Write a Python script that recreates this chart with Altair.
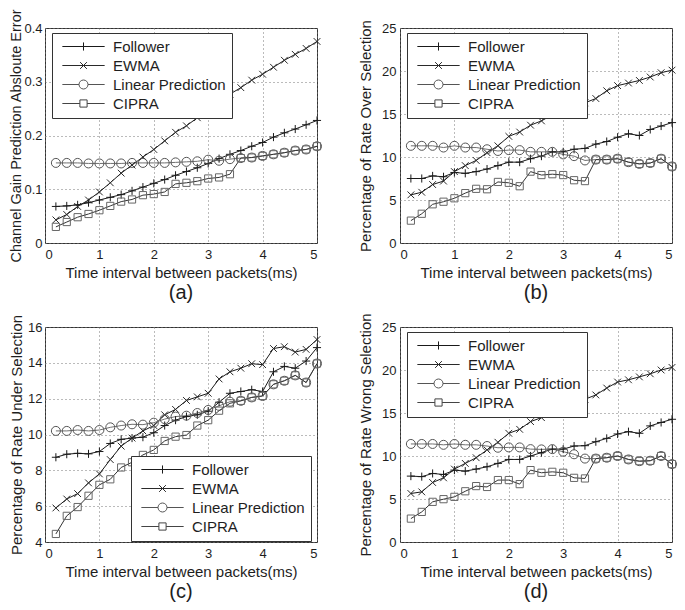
import altair as alt
import pandas as pd

# ---------------- data ----------------
x_ms = [0.2, 0.4, 0.6, 0.8, 1.0, 1.2, 1.4, 1.6, 1.8, 2.0, 2.2, 2.4, 2.6,
        2.8, 3.0, 3.2, 3.4, 3.6, 3.8, 4.0, 4.2, 4.4, 4.6, 4.8, 5.0]
series_names = ["Follower", "EWMA", "Linear Prediction", "CIPRA"]

# (a) Channel gain prediction absolute error
a_follower = [0.068, 0.069, 0.071, 0.075, 0.080, 0.085, 0.090, 0.097, 0.104, 0.111, 0.118, 0.126, 0.133,
              0.140, 0.148, 0.157, 0.165, 0.172, 0.180, 0.187, 0.197, 0.205, 0.212, 0.220, 0.228]
a_ewma = [0.043, 0.053, 0.068, 0.080, 0.095, 0.112, 0.130, 0.145, 0.160, 0.174, 0.190, 0.206, 0.218,
          0.233, 0.247, 0.262, 0.277, 0.289, 0.303, 0.314, 0.327, 0.340, 0.351, 0.362, 0.375]
a_lp = [0.149, 0.149, 0.149, 0.148, 0.148, 0.148, 0.148, 0.149, 0.149, 0.149, 0.149, 0.150, 0.151,
        0.152, 0.155, 0.153, 0.156, 0.158, 0.159, 0.162, 0.165, 0.168, 0.172, 0.174, 0.180]
a_cipra = [0.030, 0.039, 0.048, 0.054, 0.061, 0.069, 0.077, 0.081, 0.089, 0.091, 0.095, 0.110, 0.112,
           0.115, 0.120, 0.122, 0.128, 0.158, 0.159, 0.162, 0.165, 0.168, 0.172, 0.174, 0.180]

# (b) Percentage of rate over selection
b_follower = [7.5, 7.5, 7.8, 7.7, 8.2, 8.1, 8.3, 8.6, 9.0, 9.4, 9.4, 9.8, 10.1,
              10.6, 10.6, 10.9, 11.0, 11.5, 11.8, 12.3, 12.7, 12.5, 13.2, 13.6, 14.0]
b_ewma = [5.6, 5.9, 6.8, 7.2, 8.3, 9.0, 9.6, 10.5, 11.3, 12.4, 12.9, 13.7, 14.2,
          14.9, 15.3, 15.9, 16.3, 16.8, 17.7, 18.3, 18.6, 18.9, 19.3, 19.8, 20.1]
b_lp = [11.3, 11.3, 11.3, 11.1, 11.3, 11.1, 11.1, 10.9, 10.7, 10.8, 10.8, 10.6, 10.6,
        10.6, 10.3, 10.1, 9.6, 9.7, 9.7, 9.8, 9.4, 9.2, 9.3, 9.8, 8.9]
b_cipra = [2.6, 3.4, 4.5, 4.8, 5.2, 5.8, 6.3, 6.25, 7.1, 7.0, 6.6, 8.3, 7.9,
           8.0, 7.9, 7.3, 7.2, 9.7, 9.7, 9.8, 9.4, 9.2, 9.3, 9.8, 8.9]

# (c) Percentage of rate under selection
c_follower = [8.73, 8.9, 8.95, 8.92, 9.05, 9.5, 9.73, 9.8, 9.85, 10.1, 10.5, 10.8, 11.0,
              11.1, 11.3, 11.8, 12.3, 12.4, 12.5, 12.4, 13.5, 13.8, 13.7, 14.1, 14.85]
c_ewma = [5.9, 6.4, 6.7, 7.3, 7.8, 8.6, 9.35, 9.8, 10.2, 10.5, 11.1, 11.4, 11.9,
          12.1, 12.3, 13.1, 13.5, 13.7, 13.95, 13.9, 14.8, 14.9, 14.6, 14.75, 15.3]
c_lp = [10.2, 10.2, 10.25, 10.2, 10.25, 10.4, 10.5, 10.57, 10.55, 10.66, 10.86, 11.0, 11.05,
        11.2, 11.37, 11.6, 11.83, 11.88, 12.07, 12.15, 12.8, 13.0, 13.3, 12.9, 13.96]
c_cipra = [4.45, 5.46, 5.95, 6.58, 7.19, 7.5, 8.16, 8.45, 8.86, 9.14, 9.64, 9.88, 9.97,
           10.5, 10.8, 11.33, 11.74, 11.88, 12.07, 12.15, 12.8, 13.0, 13.3, 12.9, 13.96]

# (d) Percentage of rate wrong selection
d_follower = [7.66, 7.6, 7.97, 7.85, 8.36, 8.24, 8.48, 8.75, 9.14, 9.6, 9.6, 10.0, 10.4,
              10.8, 10.8, 11.16, 11.2, 11.66, 12.05, 12.56, 12.83, 12.64, 13.5, 13.9, 14.27]
d_ewma = [5.64, 5.83, 6.92, 7.46, 8.48, 9.14, 9.8, 10.7, 11.6, 12.64, 13.1, 14.0, 14.46,
          15.2, 15.6, 16.1, 16.6, 17.1, 17.9, 18.6, 18.86, 19.2, 19.56, 20.0, 20.3]
d_lp = [11.4, 11.4, 11.4, 11.3, 11.4, 11.3, 11.3, 11.16, 10.96, 11.0, 11.0, 10.8, 10.77,
        10.8, 10.5, 10.2, 9.7, 9.7, 9.8, 10.0, 9.6, 9.4, 9.45, 10.0, 9.06]
d_cipra = [2.72, 3.5, 4.67, 4.98, 5.25, 5.9, 6.5, 6.4, 7.2, 7.2, 6.73, 8.36, 8.05,
           8.16, 8.05, 7.46, 7.39, 9.7, 9.8, 10.0, 9.6, 9.4, 9.45, 10.0, 9.06]

x_ticks = [0, 1, 2, 3, 4, 5]
a_ticks = [0, 0.1, 0.2, 0.3, 0.4]
b_ticks = [0, 5, 10, 15, 20, 25]
c_ticks = [4, 6, 8, 10, 12, 14, 16]
d_ticks = [0, 5, 10, 15, 20, 25]

x_title = "Time interval between packets(ms)"

# ---------------- styling ----------------
FONT = "Liberation Sans"
TXT = "#1e1e1e"
line_colors = ["#1a1a1a", "#1a1a1a", "#707070", "#333333"]
marker_colors = ["#1a1a1a", "#2a2a2a", "#555555", "#666666"]
legend_colors = ["#1a1a1a", "#2a2a2a", "#555555", "#444444"]
marker_shapes = [
    "M-0.9,0H0.9M0,-0.9V0.9",
    "M-0.75,-0.75L0.75,0.75M-0.75,0.75L0.75,-0.75",
    "circle",
    "M-0.8,-0.8H0.8V0.8H-0.8Z",
]
legend_shapes = [
    "M-4.7,0H4.7M0,-0.9V0.9",
    "M-4.7,0H4.7M-0.75,-0.75L0.75,0.75M-0.75,0.75L0.75,-0.75",
    "M-4.7,0H-1M1,0H4.7M1,0A1,1,0,1,1,-1,0A1,1,0,1,1,1,0",
    "M-4.7,0H-0.8M0.8,0H4.7M-0.8,-0.8H0.8V0.8H-0.8Z",
]

W, H = 272, 215


def make_df(vals):
    rows = []
    for name, ys in zip(series_names, vals):
        for xv, yv in zip(x_ms, ys):
            rows.append({"x": xv, "value": yv, "series": name})
    return pd.DataFrame(rows)


def panel(vals, ydom, yticks, yfmt, ytitle, label, lx, ly, ylab_pad=4, ytitle_pad=8, ytitle_size=15):
    df = make_df(vals)
    base = alt.Chart(df).encode(
        x=alt.X("x:Q", scale=alt.Scale(domain=[0, 5], nice=False, zero=False),
                axis=alt.Axis(values=x_ticks, format="d", title=x_title,
                              labelPadding=5, titlePadding=4)),
        y=alt.Y("value:Q", scale=alt.Scale(domain=ydom, nice=False, zero=False),
                axis=alt.Axis(values=yticks, format=yfmt, title=ytitle,
                              labelPadding=ylab_pad, titlePadding=ytitle_pad,
                              titleFontSize=ytitle_size)),
    )
    lines = base.mark_line(strokeWidth=1).encode(
        color=alt.Color("series:N", scale=alt.Scale(domain=series_names, range=line_colors), legend=None),
        detail="series:N",
    )
    points = base.mark_point(filled=False, strokeWidth=1, size=81, opacity=1).encode(
        shape=alt.Shape("series:N", scale=alt.Scale(domain=series_names, range=marker_shapes), legend=None),
        stroke=alt.Stroke("series:N", scale=alt.Scale(domain=series_names, range=marker_colors), legend=None),
    )
    leg = alt.Legend(
        orient="none", legendX=lx, legendY=ly, title=None, padding=6,
        labelFont=FONT, labelFontSize=15, labelColor=TXT, labelLimit=300,
        symbolSize=81, symbolOffset=18, labelOffset=22, rowPadding=3,
        symbolStrokeWidth=1, symbolFillColor="transparent",
        strokeColor="#333333", fillColor="white", cornerRadius=0,
    )
    legend_layer = base.mark_point(filled=False, strokeWidth=1, size=81, opacity=1).encode(
        shape=alt.Shape("series:N", scale=alt.Scale(domain=series_names, range=legend_shapes), legend=leg),
        stroke=alt.Stroke("series:N", scale=alt.Scale(domain=series_names, range=legend_colors), legend=leg),
    ).transform_filter("false")
    return alt.layer(lines, points, legend_layer).resolve_scale(
        shape="independent", stroke="independent"
    ).properties(
        width=W, height=H,
        title=alt.TitleParams(label, orient="bottom", fontSize=20, font=FONT,
                              fontWeight="normal", color=TXT, anchor="middle", offset=3),
    )


pa = panel([a_follower, a_ewma, a_lp, a_cipra], [0, 0.4], a_ticks, ".1~f",
           "Channel Gain Prediction Absloute Error", "(a)", 7, 5,
           ylab_pad=3, ytitle_pad=0, ytitle_size=14.5)
pb = panel([b_follower, b_ewma, b_lp, b_cipra], [0, 25], b_ticks, "d",
           "Percentage of Rate Over Selection", "(b)", 7, 5)
pc = panel([c_follower, c_ewma, c_lp, c_cipra], [4, 16], c_ticks, "d",
           "Percentage of Rate Under Selection", "(c)", 86, 129, ylab_pad=3, ytitle_pad=3)
pd_ = panel([d_follower, d_ewma, d_lp, d_cipra], [0, 25], d_ticks, "d",
            "Percentage of Rate Wrong Selection", "(d)", 7, 5)

chart = alt.concat(
    pa, pb, pc, pd_, columns=2, spacing={"row": 84, "column": 83}, bounds="flush"
).properties(
    padding={"left": 0, "top": 0, "right": -2, "bottom": 0}
).configure(
    font=FONT, background="white"
).configure_view(
    stroke="#333333", strokeWidth=1
).configure_axis(
    labelFont=FONT, titleFont=FONT, labelFontSize=13, titleFontSize=15,
    labelColor=TXT, titleColor=TXT, titleFontWeight="normal",
    tickSize=0, domain=False, grid=True, gridColor="#777777",
    gridDash=[1, 3], gridWidth=1, gridOpacity=1,
)

chart.save("out.html", embed_options={"renderer": "svg", "actions": False})
